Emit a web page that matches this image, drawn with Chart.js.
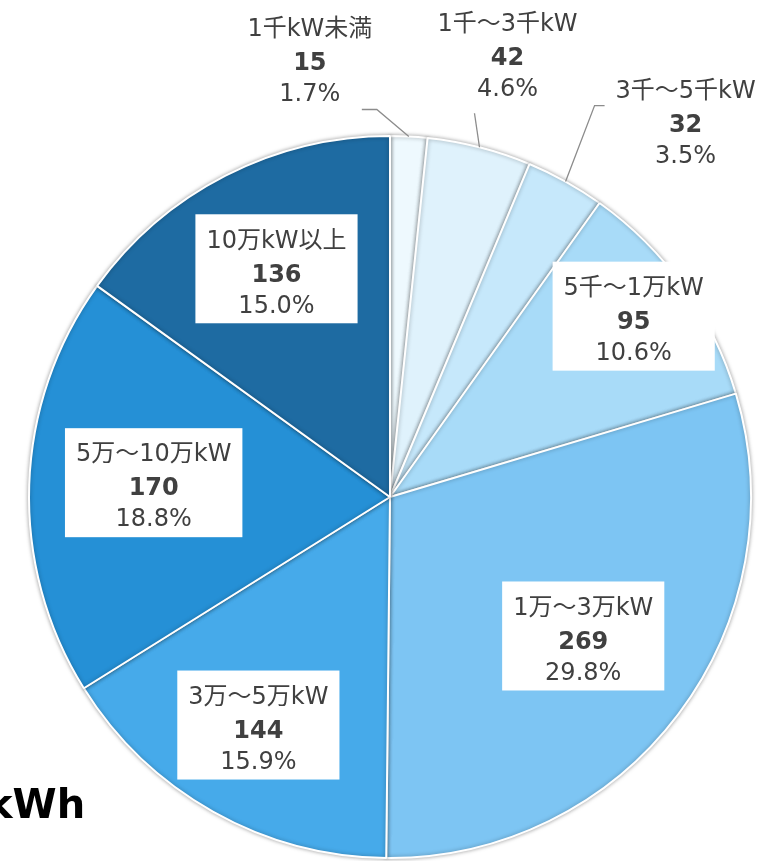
<!DOCTYPE html>
<html>
<head>
<meta charset="utf-8">
<script src="https://cdn.jsdelivr.net/npm/chart.js@4.4.0/dist/chart.umd.min.js"></script>
<style>
  html, body { margin: 0; padding: 0; background: #fff; overflow: hidden; }
  #wrap { position: relative; width: 767px; height: 861px; }
  #unit { position: absolute; left: -14px; top: 781px; font: bold 40px "DejaVu Sans", sans-serif; color: #000; }
</style>
</head>
<body>
<div id="wrap">
  <canvas id="pie" width="767" height="861"></canvas>
  <div id="unit">kWh</div>
</div>
<script>
// slice data, clockwise from 12 o'clock
const categories = ['1千kW未満', '1千～3千kW', '3千～5千kW', '5千～1万kW', '1万～3万kW', '3万～5万kW', '5万～10万kW', '10万kW以上'];
const counts = [15, 42, 32, 95, 269, 144, 170, 136];
const shares = ['1.7%', '4.6%', '3.5%', '10.6%', '29.8%', '15.9%', '18.8%', '15.0%'];

const sliceColors = ['#eef9fe', '#dff2fc', '#c6e8fb', '#a8dbf8', '#7dc5f3', '#46aaea', '#2590d6', '#1e6ba2'];

// label placement: inside ones sit on the slice's mid angle at a fraction of the radius,
// outside ones are offset from the arc edge and get a leader line
const placement = [
  { out: true, dx: -99, dy: -73, line: [[-32, -27], [-47, -27]] },
  { out: true, dx: 28, dy: -89, line: [[-5, -34]] },
  { out: true, dx: 120, dy: -56, line: [[29, -76], [39, -76]] },
  { r: 0.83 },
  { r: 0.67 },
  { r: 0.745 },
  { r: 0.655 },
  { r: 0.69 }
];

const FONT = '"DejaVu Sans", "Noto Sans CJK JP", sans-serif';

const shadowPlugin = {
  id: 'shadow',
  beforeDatasetsDraw(chart) {
    const ctx = chart.ctx;
    ctx.save();
    ctx.shadowColor = 'rgba(0,0,0,0.35)';
    ctx.shadowBlur = 4;
  },
  afterDatasetsDraw(chart) {
    chart.ctx.restore();
  }
};

const labelPlugin = {
  id: 'sliceLabels',
  afterDraw(chart) {
    const ctx = chart.ctx;
    const arcs = chart.getDatasetMeta(0).data;
    ctx.save();
    arcs.forEach((arc, i) => {
      const p = placement[i];
      const mid = (arc.startAngle + arc.endAngle) / 2;
      let cx, cy;
      if (p.out) {
        const ex = arc.x + Math.cos(mid) * arc.outerRadius;
        const ey = arc.y + Math.sin(mid) * arc.outerRadius;
        ctx.strokeStyle = '#8c8c8c';
        ctx.lineWidth = 1.3;
        ctx.beginPath();
        ctx.moveTo(ex, ey);
        p.line.forEach(pt => ctx.lineTo(ex + pt[0], ey + pt[1]));
        ctx.stroke();
        cx = ex + p.dx;
        cy = ey + p.dy;
      } else {
        cx = arc.x + Math.cos(mid) * arc.outerRadius * p.r;
        cy = arc.y + Math.sin(mid) * arc.outerRadius * p.r;
        ctx.font = '24px ' + FONT;
        const tw = Math.max(ctx.measureText(categories[i]).width, ctx.measureText(shares[i]).width);
        const w = Math.max(tw + 22, 162);
        ctx.fillStyle = '#ffffff';
        ctx.fillRect(cx - w / 2, cy - 61, w, 109);
      }
      ctx.fillStyle = '#404040';
      ctx.textAlign = 'center';
      ctx.textBaseline = 'middle';
      ctx.font = '24px ' + FONT;
      ctx.fillText(categories[i], cx, cy - 34);
      ctx.font = 'bold 24px ' + FONT;
      ctx.fillText(String(counts[i]), cx, cy);
      ctx.font = '24px ' + FONT;
      ctx.fillText(shares[i], cx, cy + 31);
    });
    ctx.restore();
  }
};

new Chart(document.getElementById('pie').getContext('2d'), {
  type: 'pie',
  data: {
    labels: categories,
    datasets: [{
      data: counts,
      backgroundColor: sliceColors,
      borderColor: '#ffffff',
      borderWidth: 2
    }]
  },
  options: {
    responsive: false,
    animation: false,
    layout: { padding: { left: 28, right: 15, top: 135, bottom: 2 } },
    plugins: {
      legend: { display: false },
      tooltip: { enabled: false }
    }
  },
  plugins: [shadowPlugin, labelPlugin]
});
</script>
</body>
</html>
